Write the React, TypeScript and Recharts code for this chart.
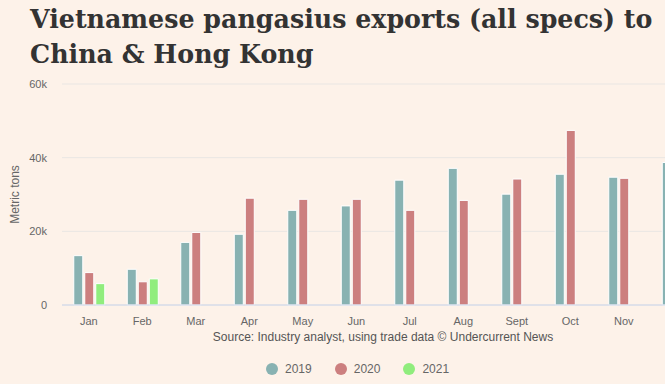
import React from 'react';
import { BarChart, Bar, XAxis, YAxis, CartesianGrid, Legend } from 'recharts';

const months = ['Jan', 'Feb', 'Mar', 'Apr', 'May', 'Jun', 'Jul', 'Aug', 'Sept', 'Oct', 'Nov', 'Dec'];
const visibleMonthTicks = ['Jan', 'Feb', 'Mar', 'Apr', 'May', 'Jun', 'Jul', 'Aug', 'Sept', 'Oct', 'Nov'];
const exports2019 = [13400, 9700, 17000, 19200, 25700, 26900, 33900, 37100, 30100, 35500, 34700, 38700];
const exports2020 = [8800, 6300, 19700, 29000, 28700, 28700, 25700, 28400, 34200, 47400, 34400, null];
const exports2021 = [5800, 7100, null, null, null, null, null, null, null, null, null, null];
const seriesKeys = ['y2019', 'y2020', 'y2021'];
const seriesNames = ['2019', '2020', '2021'];
const seriesColors = ['#88b2b2', '#cc7f7f', '#90ed7d'];
const yTicks = [0, 20000, 40000, 60000];
const titleLines = ['Vietnamese pangasius exports (all specs) to', 'China & Hong Kong'];
const sourceText = 'Source: Industry analyst, using trade data \u00a9 Undercurrent News';
const yAxisTitle = 'Metric tons';

const data = months.map((m, i) => ({
  month: m,
  y2019: exports2019[i],
  y2020: exports2020[i],
  y2021: exports2021[i],
}));

const BG = '#fdf2e9';
const SANS = '"Liberation Sans", Arial, Helvetica, sans-serif';

const renderLegend = () => (
  <div style={{ position: 'relative', width: 720, height: 384, fontFamily: SANS, pointerEvents: 'none' }}>
    <div
      style={{
        position: 'absolute',
        left: 62,
        width: 642,
        top: 330,
        textAlign: 'center',
        fontSize: 12,
        color: '#555',
        lineHeight: '14px',
      }}
    >
      {sourceText}
    </div>
    <div style={{ position: 'absolute', left: 266, top: 362, display: 'flex', alignItems: 'center' }}>
      {seriesNames.map((name, i) => (
        <div key={name} style={{ display: 'flex', alignItems: 'center', marginRight: 23 }}>
          <span
            style={{
              display: 'inline-block',
              width: 12,
              height: 12,
              borderRadius: 6,
              background: seriesColors[i],
            }}
          />
          <span style={{ marginLeft: 7, fontSize: 12, color: '#666', lineHeight: '14px' }}>{name}</span>
        </div>
      ))}
    </div>
  </div>
);

export default function App() {
  return (
    <div
      style={{
        position: 'fixed',
        left: 0,
        top: 0,
        width: 665,
        height: 384,
        overflow: 'hidden',
        background: BG,
      }}
    >
      <div
        style={{
          position: 'absolute',
          left: 30,
          top: 2,
          fontFamily: '"DejaVu Serif", Georgia, serif',
          fontWeight: 'bold',
          fontSize: 25.3,
          lineHeight: '35px',
          color: '#333333',
          whiteSpace: 'nowrap',
        }}
      >
        {titleLines.map((l) => (
          <div key={l}>{l}</div>
        ))}
      </div>
      <div style={{ position: 'absolute', left: 0, top: 0 }}>
        <BarChart
          width={720}
          height={384}
          data={data}
          margin={{ top: 84, right: 16, left: 0, bottom: 0 }}
          barCategoryGap="22%"
          barGap={2}
        >
          <CartesianGrid vertical={false} stroke="#e9e6e3" />
          <XAxis
            dataKey="month"
            height={79}
            ticks={visibleMonthTicks}
            axisLine={{ stroke: '#ccd6eb' }}
            tickLine={false}
            tickSize={0}
            tickMargin={12}
            interval={0}
            tick={{ fill: '#666', fontSize: 11, fontFamily: SANS }}
          />
          <YAxis
            width={62}
            domain={[0, 60000]}
            ticks={yTicks}
            axisLine={false}
            tickLine={false}
            tickSize={0}
            tickMargin={15}
            tickFormatter={(v: number) => (v === 0 ? '0' : `${v / 1000}k`)}
            tick={{ fill: '#666', fontSize: 11, fontFamily: SANS }}
            label={{
              value: yAxisTitle,
              angle: -90,
              position: 'insideLeft',
              offset: 15,
              style: { fill: '#666', fontSize: 12, fontFamily: SANS, textAnchor: 'middle' },
            }}
          />
          <Legend
            layout="vertical"
            align="center"
            verticalAlign="middle"
            wrapperStyle={{ left: 0, top: 0, width: 720, height: 384 }}
            content={renderLegend}
          />
          {seriesKeys.map((k, i) => (
            <Bar
              key={k}
              dataKey={k}
              name={seriesNames[i]}
              fill={seriesColors[i]}
              stroke="#ffffff"
              strokeWidth={1}
              isAnimationActive={false}
            />
          ))}
        </BarChart>
      </div>
    </div>
  );
}
